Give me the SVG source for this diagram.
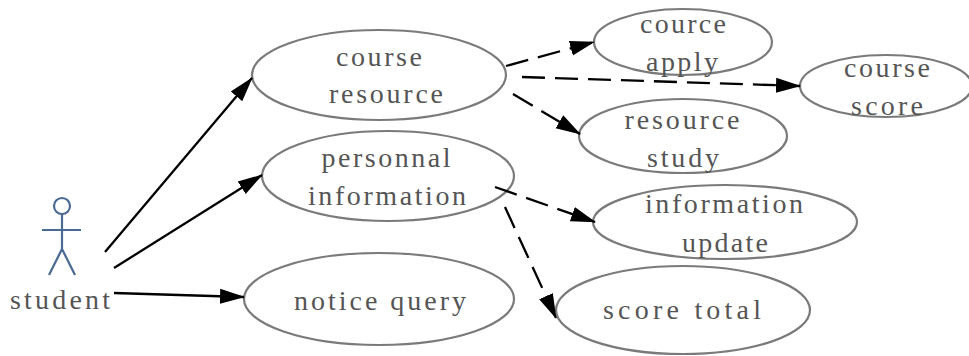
<svg xmlns="http://www.w3.org/2000/svg" width="969" height="356" viewBox="0 0 969 356">
<style>
.n{fill:#fff;stroke:#7a7a7a;stroke-width:2.2}
.t{font-family:"Liberation Serif","DejaVu Serif",serif;font-size:28px;fill:#555;text-anchor:middle}
.c{fill:none;stroke:#000;stroke-width:2.3;marker-end:url(#a)}
.d{stroke-dasharray:23 10}
.s{fill:none;stroke:#4a6a94;stroke-width:2.2}
</style>
<defs><marker id="a" markerUnits="userSpaceOnUse" markerWidth="26" markerHeight="18" refX="24" refY="9" orient="auto"><path d="M0 1.5L25 9L0 16.5Z" fill="#000"/></marker></defs>
<rect width="969" height="356" fill="#fff"/>
<g id="student"><circle class="s" cx="62" cy="206" r="8"/><path class="s" d="M62 214V249M42 230H81M62 249L49 275M62 249L75 275"/><text class="t" x="60" y="309" textLength="100">student</text></g>
<g id="course-resource"><ellipse class="n" cx="379" cy="75" rx="127" ry="45"/><text class="t" x="379" y="66" textLength="86">course</text><text class="t" x="386" y="103" textLength="114">resource</text></g>
<g id="personnal-information"><ellipse class="n" cx="388" cy="176" rx="126" ry="45"/><text class="t" x="386" y="167" textLength="129">personnal</text><text class="t" x="387" y="205" textLength="158">information</text></g>
<g id="notice-query"><ellipse class="n" cx="379" cy="299" rx="135" ry="46"/><text class="t" x="380" y="310" textLength="172">notice query</text></g>
<g id="cource-apply"><ellipse class="n" cx="683" cy="42" rx="89" ry="33"/><text class="t" x="683" y="33" textLength="86">cource</text><text class="t" x="682" y="71" textLength="72">apply</text></g>
<g id="course-score"><ellipse class="n" cx="886" cy="86" rx="86" ry="31"/><text class="t" x="887" y="77" textLength="86">course</text><text class="t" x="887" y="115" textLength="72">score</text></g>
<g id="resource-study"><ellipse class="n" cx="683" cy="136" rx="104" ry="37"/><text class="t" x="682" y="129" textLength="115">resource</text><text class="t" x="683" y="167" textLength="72">study</text></g>
<g id="information-update"><ellipse class="n" cx="725" cy="222" rx="132" ry="37"/><text class="t" x="724" y="213" textLength="158">information</text><text class="t" x="725" y="252" textLength="86">update</text></g>
<g id="score-total"><ellipse class="n" cx="683" cy="310" rx="127" ry="44"/><text class="t" x="682" y="319" textLength="158">score total</text></g>
<g id="connectors">
<path class="c" d="M105 252L252 78"/>
<path class="c" d="M114 268L262 175"/>
<path class="c" d="M114 293L244 297"/>
<path class="c d" d="M506 66L594 42"/>
<path class="c d" d="M522 77L800 86"/>
<path class="c d" d="M513 94L580 134"/>
<path class="c d" d="M495 187L595 222"/>
<path class="c d" d="M505 207L556 318"/>
</g>
</svg>
